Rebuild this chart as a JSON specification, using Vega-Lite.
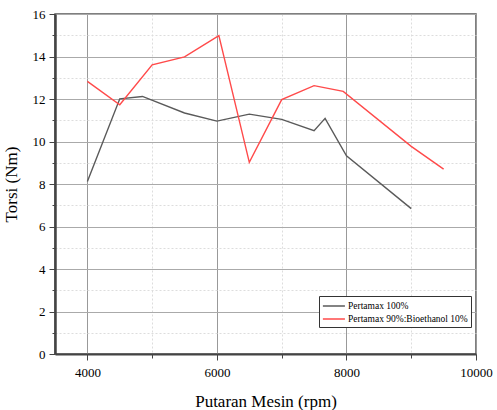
{
  "$schema": "https://vega.github.io/schema/vega-lite/v6.json",
  "width": 421,
  "height": 340,
  "autosize": {"type": "none"},
  "padding": {"left": 55, "top": 14, "right": 21, "bottom": 56},
  "background": "white",
  "config": {
    "view": {"stroke": "#555", "strokeWidth": 1.5},
    "font": "Times New Roman, Liberation Serif, serif"
  },
  "data": {
    "values": [
      {"rpm": 4000, "torsi": 8.12, "s": "Pertamax 100%"},
      {"rpm": 4500, "torsi": 12.01, "s": "Pertamax 100%"},
      {"rpm": 4850, "torsi": 12.12, "s": "Pertamax 100%"},
      {"rpm": 5500, "torsi": 11.34, "s": "Pertamax 100%"},
      {"rpm": 6000, "torsi": 10.96, "s": "Pertamax 100%"},
      {"rpm": 6500, "torsi": 11.29, "s": "Pertamax 100%"},
      {"rpm": 7000, "torsi": 11.04, "s": "Pertamax 100%"},
      {"rpm": 7500, "torsi": 10.51, "s": "Pertamax 100%"},
      {"rpm": 7670, "torsi": 11.09, "s": "Pertamax 100%"},
      {"rpm": 8000, "torsi": 9.33, "s": "Pertamax 100%"},
      {"rpm": 9000, "torsi": 6.84, "s": "Pertamax 100%"},
      {"rpm": 4000, "torsi": 12.83, "s": "Pertamax 90%:Bioethanol 10%"},
      {"rpm": 4500, "torsi": 11.73, "s": "Pertamax 90%:Bioethanol 10%"},
      {"rpm": 5000, "torsi": 13.61, "s": "Pertamax 90%:Bioethanol 10%"},
      {"rpm": 5500, "torsi": 13.98, "s": "Pertamax 90%:Bioethanol 10%"},
      {"rpm": 6030, "torsi": 14.98, "s": "Pertamax 90%:Bioethanol 10%"},
      {"rpm": 6500, "torsi": 9.02, "s": "Pertamax 90%:Bioethanol 10%"},
      {"rpm": 7000, "torsi": 11.97, "s": "Pertamax 90%:Bioethanol 10%"},
      {"rpm": 7500, "torsi": 12.63, "s": "Pertamax 90%:Bioethanol 10%"},
      {"rpm": 7950, "torsi": 12.36, "s": "Pertamax 90%:Bioethanol 10%"},
      {"rpm": 9000, "torsi": 9.77, "s": "Pertamax 90%:Bioethanol 10%"},
      {"rpm": 9500, "torsi": 8.7, "s": "Pertamax 90%:Bioethanol 10%"}
    ]
  },
  "mark": {"type": "line", "strokeWidth": 1.4},
  "encoding": {
    "x": {
      "field": "rpm",
      "type": "quantitative",
      "scale": {"domain": [3500, 10000], "nice": false, "zero": false},
      "axis": {
        "title": "Putaran Mesin (rpm)",
        "titleFont": "Times New Roman, Liberation Serif, serif",
        "titleFontSize": 17,
        "titleFontWeight": "normal",
        "titleColor": "#000",
        "titlePadding": 14,
        "values": [4000, 5000, 6000, 7000, 8000, 9000, 10000],
        "labelExpr": "datum.value % 2000 === 0 ? datum.label : ''",
        "format": "d",
        "labelFont": "Times New Roman, Liberation Serif, serif",
        "labelFontSize": 13,
        "labelColor": "#000",
        "labelPadding": 6,
        "labelFlush": false,
        "domainColor": "#444",
        "domainWidth": 2,
        "tickColor": "#444",
        "tickSize": {"condition": {"test": "datum.value % 2000 === 0", "value": 6}, "value": 4},
        "tickWidth": 1,
        "grid": true,
        "gridColor": {"condition": {"test": "datum.value % 2000 === 0", "value": "#999"}, "value": "#ddd"},
        "gridDash": {"condition": {"test": "datum.value % 2000 === 0", "value": []}, "value": [2, 2]},
        "gridWidth": 1
      }
    },
    "y": {
      "field": "torsi",
      "type": "quantitative",
      "scale": {"domain": [0, 16], "nice": false},
      "axis": {
        "title": "Torsi (Nm)",
        "titleFont": "Times New Roman, Liberation Serif, serif",
        "titleFontSize": 17,
        "titleFontWeight": "normal",
        "titleColor": "#000",
        "titlePadding": 12,
        "values": [0, 1, 2, 3, 4, 5, 6, 7, 8, 9, 10, 11, 12, 13, 14, 15, 16],
        "labelExpr": "datum.value % 2 === 0 ? datum.label : ''",
        "labelFont": "Times New Roman, Liberation Serif, serif",
        "labelFontSize": 13,
        "labelColor": "#000",
        "labelPadding": 4,
        "labelFlush": false,
        "domainColor": "#444",
        "domainWidth": 2.5,
        "tickColor": "#444",
        "tickSize": {"condition": {"test": "datum.value % 2 === 0", "value": 6}, "value": 3},
        "grid": true,
        "gridColor": {"condition": {"test": "datum.value % 2 === 0", "value": "#aaa"}, "value": "#ddd"},
        "gridDash": {"condition": {"test": "datum.value % 2 === 0", "value": []}, "value": [2, 2]},
        "gridWidth": 1
      }
    },
    "color": {
      "field": "s",
      "type": "nominal",
      "scale": {
        "domain": ["Pertamax 100%", "Pertamax 90%:Bioethanol 10%"],
        "range": ["#5a5a5a", "#ff4a4a"]
      },
      "legend": {
        "title": null,
        "orient": "none",
        "legendX": 264,
        "legendY": 282,
        "symbolType": "M-1,0H2.6",
        "symbolSize": 150,
        "symbolStrokeWidth": 1.5,
        "labelFont": "Times New Roman, Liberation Serif, serif",
        "labelFontSize": 9.5,
        "labelColor": "#000",
        "labelOffset": 12,
        "rowPadding": 1,
        "padding": 3,
        "fillColor": "white",
        "strokeColor": "#333"
      }
    }
  }
}
